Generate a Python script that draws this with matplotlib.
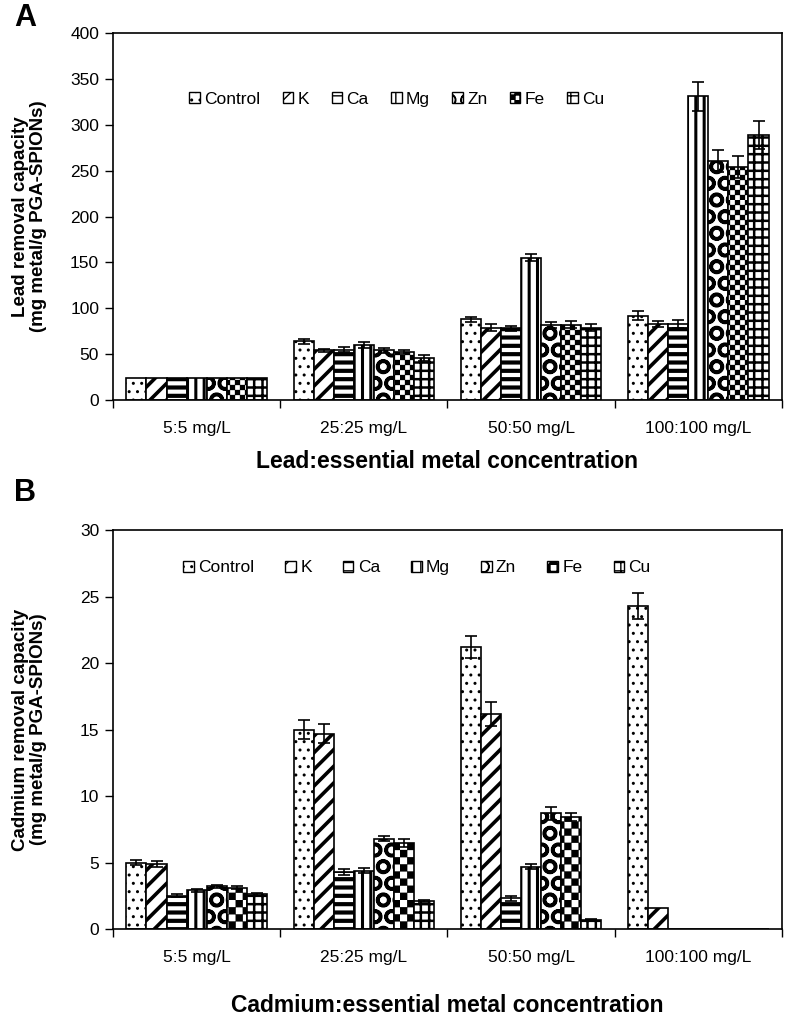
import warnings
import numpy as np
import matplotlib
matplotlib.use('Agg')
import matplotlib.pyplot as plt
import matplotlib.hatch as mhatch
from matplotlib.path import Path

warnings.filterwarnings('ignore')
plt.rcParams['font.family'] = ['Liberation Sans', 'DejaVu Sans']

# categories and series
groups = ['5:5 mg/L', '25:25 mg/L', '50:50 mg/L', '100:100 mg/L']
metals = ['Control', 'K', 'Ca', 'Mg', 'Zn', 'Fe', 'Cu']

# panel A - lead removal (rows = metals, cols = groups)
lead_vals = [
    [24, 64, 88, 92],     # Control
    [24, 54, 79, 83],     # K
    [24, 55, 78, 83],     # Ca
    [24, 60, 155, 331],   # Mg
    [24, 54, 82, 260],    # Zn
    [24, 52, 82, 254],    # Fe
    [24, 46, 79, 289],    # Cu
]
lead_err = [
    [0, 3, 3, 5],
    [0, 2, 4, 3],
    [0, 3, 3, 4],
    [0, 3, 4, 16],
    [0, 3, 3, 12],
    [0, 2, 4, 12],
    [0, 3, 4, 15],
]

# panel B - cadmium removal
cd_vals = [
    [5.0, 15.0, 21.2, 24.3],
    [4.9, 14.7, 16.2, 1.6],
    [2.5, 4.3, 2.3, 0],
    [2.9, 4.4, 4.7, 0],
    [3.2, 6.8, 8.7, 0],
    [3.1, 6.5, 8.4, 0],
    [2.6, 2.1, 0.7, 0],
]
cd_err = [
    [0.2, 0.7, 0.8, 1.0],
    [0.2, 0.7, 0.9, 0],
    [0.1, 0.2, 0.2, 0],
    [0.1, 0.2, 0.2, 0],
    [0.1, 0.2, 0.5, 0],
    [0.1, 0.3, 0.3, 0],
    [0.1, 0.1, 0.05, 0],
]


class CheckerHatch(mhatch.HatchPatternBase):
    """filled checkerboard, 'c' in the hatch string"""

    def __init__(self, hatch, density):
        self.n = 2 * int(3.5 * hatch.count('c'))
        self.num_vertices = 5 * (self.n * self.n // 2)

    def set_vertices_and_codes(self, vertices, codes):
        c = 1.0 / self.n
        sq = []
        for a in range(self.n):
            for b in range(self.n):
                if (a + b) % 2 == 0:
                    x0, y0, x1, y1 = a * c, b * c, (a + 1) * c, (b + 1) * c
                    sq.append([[x0, y0], [x1, y0], [x1, y1], [x0, y1], [x0, y0]])
        vertices[:] = np.array(sq).reshape(-1, 2)
        codes[:] = np.tile([Path.MOVETO, Path.LINETO, Path.LINETO,
                            Path.LINETO, Path.CLOSEPOLY], len(sq))


mhatch._hatch_types.append(CheckerHatch)

hatch_lw = [1.0, 2.6, 3.0, 2.2, 2.5, 0.2, 1.8]


def draw_panel(ax, vals, errs, hatches, ymax, ystep, ylabel, xlabel, xlabel_y,
               leg_x, leg_y, colsp):
    n = len(metals)
    width = 0.12
    x = np.arange(len(groups))
    for i in range(n):
        offs = x + (i - (n - 1) / 2) * width
        e = np.array(errs[i], dtype=float)
        with plt.rc_context({'hatch.linewidth': hatch_lw[i]}):
            bars = ax.bar(offs, vals[i], width, color='white', edgecolor='black',
                          linewidth=1.2, hatch=hatches[i], label=metals[i], zorder=2)
        for b in bars:
            if hasattr(b, 'set_hatch_linewidth'):
                b.set_hatch_linewidth(hatch_lw[i])
        ax.errorbar(offs, vals[i], yerr=np.where(e > 0, e, np.nan), fmt='none',
                    ecolor='black', elinewidth=1.2, capsize=4, capthick=1.2, zorder=3)
    ax.set_xlim(-0.5, len(groups) - 0.5)
    ax.set_ylim(0, ymax)
    ax.set_yticks(np.arange(0, ymax + ystep / 2, ystep))
    ax.set_xticks(np.arange(-0.5, len(groups), 1.0))
    ax.set_xticklabels([])
    ax.set_xticks(x, minor=True)
    ax.set_xticklabels(groups, minor=True)
    ax.tick_params(axis='x', which='major', length=6, width=1, direction='out')
    ax.tick_params(axis='x', which='minor', length=0, pad=15, labelsize=12.5)
    ax.tick_params(axis='y', length=6, width=1, labelsize=12.5, direction='out', pad=4)
    for s in ax.spines.values():
        s.set_linewidth(1.2)
    ax.set_ylabel(ylabel, fontsize=13.5, fontweight='bold', linespacing=1.15)
    ax.yaxis.set_label_coords(-0.098, 0.5)
    ax.set_xlabel(xlabel, fontsize=16.5, fontweight='bold')
    ax.xaxis.set_label_coords(0.5, xlabel_y)
    leg = ax.legend(loc='center left', bbox_to_anchor=(leg_x, leg_y), ncol=7,
                    frameon=False, fontsize=12.5, handlelength=0.6, handleheight=0.6,
                    handletextpad=0.25, columnspacing=colsp, borderpad=0,
                    borderaxespad=0)
    for h in leg.get_patches():
        h.set_linewidth(1.0)
    return leg


fig = plt.figure(figsize=(7.86, 10.16), dpi=100)
axA = fig.add_axes([0.1438, 0.6063, 0.851, 0.3612])
axB = fig.add_axes([0.1438, 0.0856, 0.851, 0.3927])

draw_panel(axA, lead_vals, lead_err, ['..', '//', '--', '||', 'O', 'ccc', '++'],
           400, 50, 'Lead removal capacity\n(mg metal/g PGA-SPIONs)',
           'Lead:essential metal concentration', -0.137, 0.114, 0.82, 1.3)
draw_panel(axB, cd_vals, cd_err, ['..', '//', '--', '||', 'O', 'cc', '++'],
           30, 5, 'Cadmium removal capacity\n(mg metal/g PGA-SPIONs)',
           'Cadmium:essential metal concentration', -0.163, 0.105, 0.905, 1.8)

fig.text(0.032, 0.982, 'A', fontsize=22, fontweight='bold', ha='center', va='center')
fig.text(0.032, 0.515, 'B', fontsize=22, fontweight='bold', ha='center', va='center')

fig.savefig('out.png', dpi=100)
